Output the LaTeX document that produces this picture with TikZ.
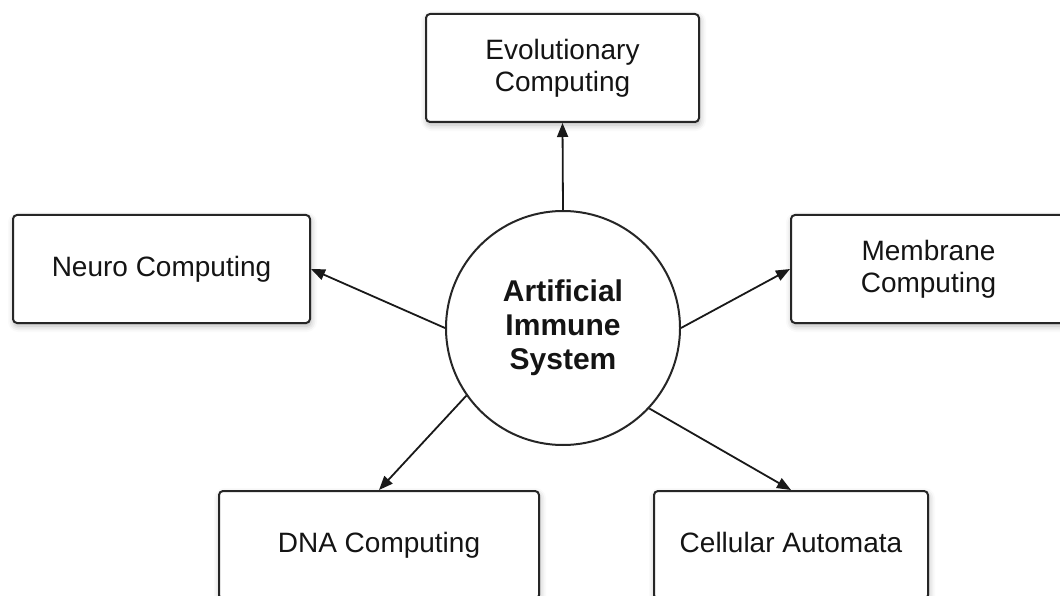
\documentclass[tikz,border=0pt]{standalone}
\usepackage{fontspec}
\setmainfont{Liberation Sans}
\usetikzlibrary{arrows.meta,shadows.blur}
\begin{document}
\begin{tikzpicture}[x=1pt,y=-1pt,
  box/.style={draw=black!85, line width=2pt, rounded corners=4pt, fill=white,
    align=center, text=black!92, font=\fontsize{28}{32}\selectfont,
    blur shadow={shadow xshift=1pt, shadow yshift=-3pt,
      shadow blur radius=6pt, shadow opacity=30}},
  oneline/.style={text height=20pt, text depth=6pt},
  hub/.style={circle, draw=black!85, line width=2pt, fill=white,
    minimum size=234pt, inner sep=0pt, align=center, text=black!92,
    font=\bfseries\fontsize{30}{34}\selectfont},
  link/.style={line width=1.8pt, draw=black!90,
    -{Triangle[length=14pt,width=11pt]}}
]
\useasboundingbox (0,0) rectangle (1060,596);
\clip (0,0) rectangle (1060,596);

% outer topics
\node[box, minimum width=273pt, minimum height=108pt] (evo)  at (562.5,68)  {Evolutionary\\Computing};
\node[box, oneline, minimum width=297pt, minimum height=108pt] (neuro) at (161.5,269) {Neuro Computing};
\node[box, minimum width=275pt, minimum height=108pt] (memb) at (928.5,269) {Membrane\\Computing};
\node[box, oneline, minimum width=320pt, minimum height=108pt] (dna)  at (379,545)   {DNA Computing};
\node[box, oneline, minimum width=274pt, minimum height=108pt] (cell) at (791,545)   {Cellular Automata};

% central hub
\node[hub] (ais) at (563,328) {Artificial\\Immune\\System};

% connectors
\draw[link] (ais.north) -- (evo.south);
\draw[link] (ais.west)  -- (neuro.east);
\draw[link] (ais.east)  -- (memb.west);
\draw[link] (ais.215.8) -- (dna.north);
\draw[link] (ais.-43)   -- (cell.north);
\end{tikzpicture}
\end{document}
